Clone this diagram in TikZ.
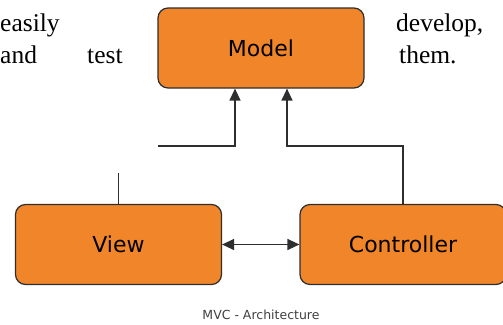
\documentclass[tikz,border=0pt]{standalone}
\usepackage{fontspec}
\setmainfont{Liberation Serif}
\newfontfamily\boxfont{DejaVu Sans}
\usetikzlibrary{arrows.meta}
\definecolor{mvcorange}{HTML}{F0852A}
\definecolor{mvcline}{HTML}{2E2E2E}
\begin{document}
\begin{tikzpicture}[x=1pt,y=-1pt]
    \tikzstyle{mvcbox}=[draw=mvcline,line width=1.2pt,fill=mvcorange,rounded corners=10pt,
        minimum width=206pt,minimum height=80pt,font=\boxfont\fontsize{22}{26}\selectfont]
    \tikzstyle{link}=[draw=mvcline,line width=1.3pt]
    \tikzstyle{tip}=[-{Triangle[length=12pt,width=11pt]}]
    \tikzstyle{prose}=[anchor=base west,inner sep=0pt,font=\fontsize{25.5}{30}\selectfont]
    \useasboundingbox (0,0) rectangle (503,324);
    % surrounding text
    \node[prose] (w1) at (0,31) {easily};
    \node[prose] (w2) at (396,31) {develop,};
    \node[prose] (w3) at (0,63) {and};
    \node[prose] (w4) at (87,63) {test};
    \node[prose] (w5) at (399,63) {them.};
    % boxes
    \node[mvcbox] (model) at (261,48) {Model};
    \node[mvcbox] (view) at (118.5,244.5) {View};
    \node[mvcbox] (ctrl) at (403,244.5) {Controller};
    \coordinate (vlstart) at (158,146);
    \coordinate (vltop) at (118.5,173);
    \draw[link,tip] (vlstart) -| ([xshift=-26pt]model.south);
    \draw[link,tip] (ctrl.north) |- (287,146) -- ([xshift=26pt]model.south);
    \draw[link] (view.north) -- (vltop);
    \draw[link,{Triangle[length=12pt,width=11pt]}-{Triangle[length=12pt,width=11pt]}] (view) -- (ctrl);
    \node[font=\boxfont\fontsize{12.5}{15}\selectfont,text=black!75] (cap) at (261,315) {MVC - Architecture};
\end{tikzpicture}
\end{document}
